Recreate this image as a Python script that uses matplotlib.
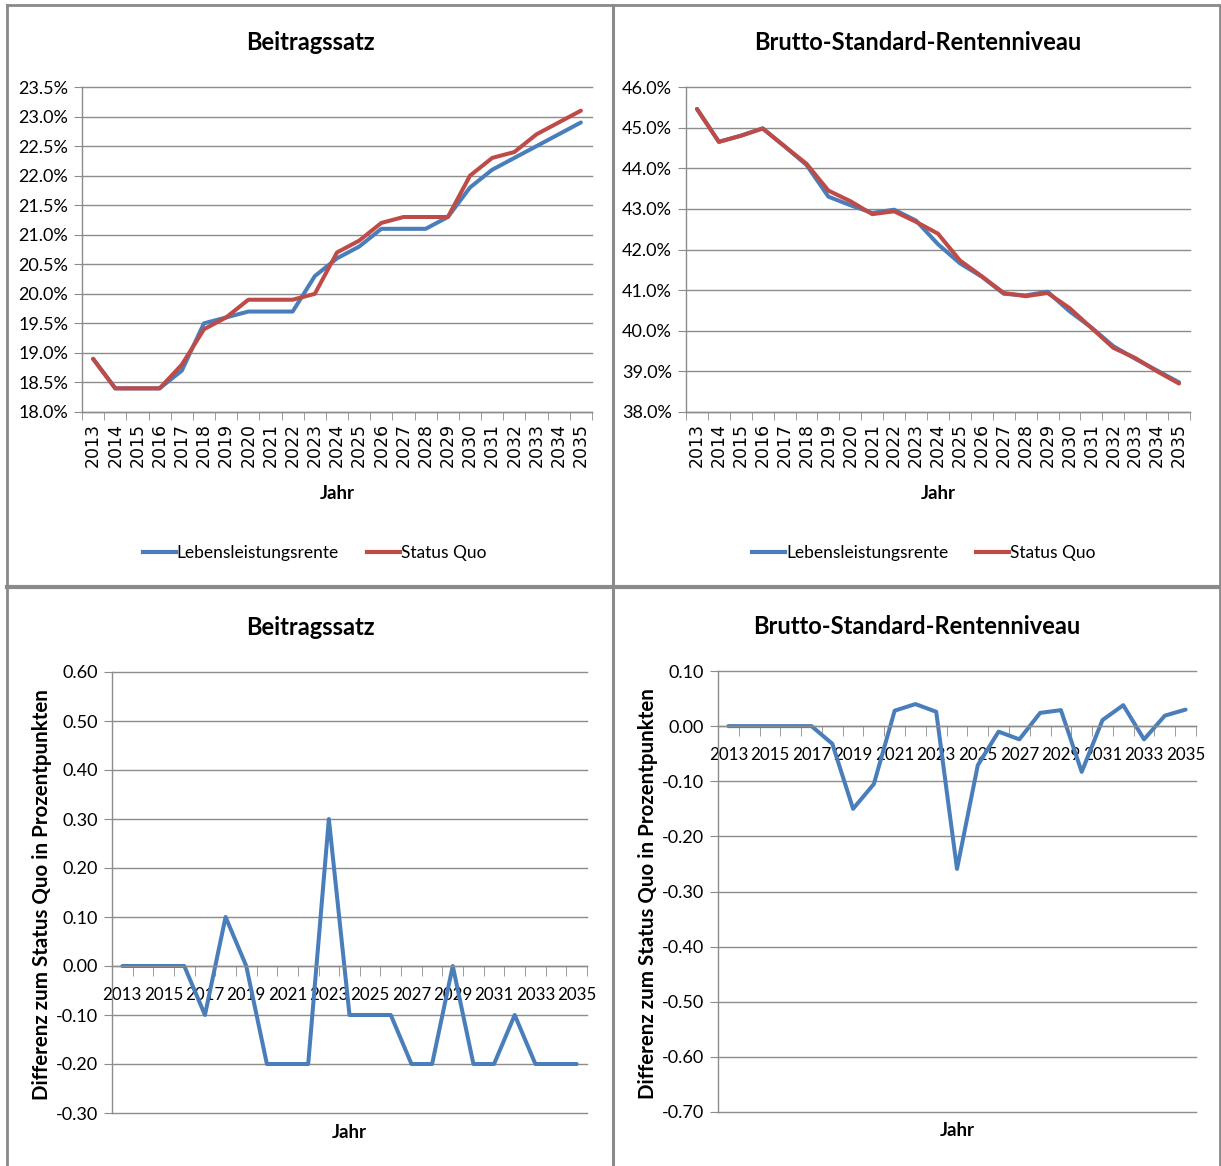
import matplotlib
matplotlib.use("Agg")
import matplotlib.pyplot as plt
from matplotlib.lines import Line2D
from matplotlib.ticker import FixedLocator, FuncFormatter

years = list(range(2013, 2036))

beitrag_lls = [18.9, 18.4, 18.4, 18.4, 18.7, 19.5, 19.6, 19.7, 19.7, 19.7, 20.3, 20.6,
               20.8, 21.1, 21.1, 21.1, 21.3, 21.8, 22.1, 22.3, 22.5, 22.7, 22.9]
beitrag_sq = [18.9, 18.4, 18.4, 18.4, 18.8, 19.4, 19.6, 19.9, 19.9, 19.9, 20.0, 20.7,
              20.9, 21.2, 21.3, 21.3, 21.3, 22.0, 22.3, 22.4, 22.7, 22.9, 23.1]

renten_lls = [45.46, 44.65, 44.80, 44.98, 44.54, 44.08, 43.30, 43.09, 42.90, 42.98, 42.71, 42.13,
              41.66, 41.33, 40.91, 40.87, 40.96, 40.48, 40.08, 39.62, 39.31, 39.02, 38.73]
renten_sq = [45.46, 44.65, 44.80, 44.98, 44.54, 44.11, 43.45, 43.19, 42.87, 42.94, 42.68, 42.39,
             41.73, 41.34, 40.93, 40.85, 40.93, 40.56, 40.07, 39.58, 39.33, 39.00, 38.70]

diff_beitrag = [0.0, 0.0, 0.0, 0.0, -0.1, 0.1, 0.0, -0.2, -0.2, -0.2, 0.3, -0.1,
                -0.1, -0.1, -0.2, -0.2, 0.0, -0.2, -0.2, -0.1, -0.2, -0.2, -0.2]
diff_renten = [0.0, 0.0, 0.0, 0.0, 0.0, -0.032, -0.15, -0.105, 0.028, 0.04, 0.026, -0.259,
               -0.071, -0.01, -0.024, 0.024, 0.029, -0.083, 0.011, 0.038, -0.024, 0.019, 0.03]

series_names = ["Lebensleistungsrente", "Status Quo"]
titles = ["Beitragssatz", "Brutto-Standard-Rentenniveau"]
xlabel = "Jahr"
ylabel_diff = "Differenz zum Status Quo in Prozentpunkten"

BLUE = "#4A7EBB"
RED = "#BE4B48"
GRID = "#8C8C8C"
FRAME = "#8A8A8A"
NARROW = ["Lato", "DejaVu Sans"]

W, H = 1221, 1166
fig = plt.figure(figsize=(W / 100, H / 100), dpi=100)
fig.patch.set_facecolor("white")


def rect(l, t, r, b):
    return [l / W, 1 - b / H, (r - l) / W, (b - t) / H]


def style_common(ax):
    for s in ["top", "right"]:
        ax.spines[s].set_visible(False)
    for s in ["left", "bottom"]:
        ax.spines[s].set_color(GRID)
        ax.spines[s].set_linewidth(1.0)
    ax.grid(axis="y", color=GRID, linewidth=1.0)
    for gl in ax.get_ygridlines():
        gl.set_clip_on(False)
    ax.set_axisbelow(True)
    ax.tick_params(axis="y", length=6, color=GRID, labelsize=13, pad=4)
    for lab in ax.get_yticklabels():
        lab.set_family(NARROW)
    ax.set_xlim(-0.5, len(years) - 0.5)
    ax.xaxis.set_minor_locator(FixedLocator([i + 0.5 for i in range(-1, len(years))]))


def top_chart(rect_px, lls, sq, yticks, title, title_xy, leg_x):
    ax = fig.add_axes(rect(*rect_px))
    x = list(range(len(years)))
    ax.plot(x, lls, color=BLUE, lw=2.9, solid_capstyle="round", solid_joinstyle="round")
    ax.plot(x, sq, color=RED, lw=2.9, solid_capstyle="round", solid_joinstyle="round")
    ax.set_ylim(yticks[0], yticks[-1])
    ax.set_yticks(yticks)
    ax.yaxis.set_major_formatter(FuncFormatter(lambda v, p: f"{v:.1f}%"))
    style_common(ax)
    ax.set_xticks(x)
    ax.set_xticklabels([str(y) for y in years], rotation=90, fontsize=12.5,
                       family="DejaVu Sans")
    ax.tick_params(axis="x", which="major", length=0, pad=8)
    ax.tick_params(axis="x", which="minor", length=6, color=GRID)
    ax.set_xlabel(xlabel, fontsize=13.5, fontweight="bold", family=NARROW, labelpad=13)
    fig.text(title_xy[0] / W, 1 - title_xy[1] / H, title, fontsize=17, fontweight="bold",
             family=NARROW, ha="center", va="center")
    handles = [Line2D([], [], color=BLUE, lw=3), Line2D([], [], color=RED, lw=3)]
    ax.legend(handles, series_names, loc="center", ncol=2, frameon=False,
              bbox_to_anchor=(leg_x, -0.435), prop={"family": NARROW, "size": 12.5},
              handlelength=1.9, handletextpad=0.05, columnspacing=1.6)
    return ax


def diff_chart(rect_px, vals, yticks, title, title_xy, ylab_x):
    ax = fig.add_axes(rect(*rect_px))
    x = list(range(len(years)))
    ax.plot(x, vals, color=BLUE, lw=2.9, solid_capstyle="round", solid_joinstyle="round")
    ax.set_ylim(yticks[0], yticks[-1])
    ax.set_yticks(yticks)
    ax.yaxis.set_major_formatter(FuncFormatter(lambda v, p: f"{v:.2f}"))
    style_common(ax)
    ax.spines["bottom"].set_position(("data", 0))
    ax.set_xticks(x[::2])
    ax.set_xticklabels([str(y) for y in years[::2]], fontsize=12.2, family=NARROW)
    ax.tick_params(axis="x", which="major", length=0, pad=15)
    ax.tick_params(axis="x", which="minor", length=7, color=GRID, direction="out")
    fig.text(title_xy[0] / W, 1 - title_xy[1] / H, title, fontsize=17, fontweight="bold",
             family=NARROW, ha="center", va="center")
    cx = (rect_px[0] + rect_px[2]) / 2
    fig.text((cx) / W, 1 - (rect_px[3] + 19) / H, xlabel, fontsize=13.5,
             fontweight="bold", family=NARROW, ha="center", va="center")
    fig.text(ylab_x / W, 1 - ((rect_px[1] + rect_px[3]) / 2 + 2) / H, ylabel_diff,
             fontsize=14.8, fontweight="bold", family=NARROW, rotation=90,
             ha="center", va="center")
    return ax


top_chart((82, 87, 592, 412), beitrag_lls, beitrag_sq,
          [18.0, 18.5, 19.0, 19.5, 20.0, 20.5, 21.0, 21.5, 22.0, 22.5, 23.0, 23.5],
          titles[0], (310, 43), 0.456)
top_chart((686, 87, 1190, 412), renten_lls, renten_sq,
          [38.0, 39.0, 40.0, 41.0, 42.0, 43.0, 44.0, 45.0, 46.0],
          titles[1], (918, 43), 0.472)
diff_chart((112, 672, 587, 1113), diff_beitrag,
           [-0.3, -0.2, -0.1, 0.0, 0.1, 0.2, 0.3, 0.4, 0.5, 0.6],
           titles[0], (310, 628), 42)
diff_chart((718, 671, 1196, 1112), diff_renten,
           [-0.7, -0.6, -0.5, -0.4, -0.3, -0.2, -0.1, 0.0, 0.1],
           titles[1], (917, 627), 648)


def hline(y, x0, x1, lw):
    fig.add_artist(Line2D([x0 / W, x1 / W], [1 - y / H, 1 - y / H], color=FRAME, lw=lw))


def vline(x, y0, y1, lw):
    fig.add_artist(Line2D([x / W, x / W], [1 - y0 / H, 1 - y1 / H], color=FRAME, lw=lw))


hline(5, 7, 1221, 2.0)
hline(587, 7, 1221, 3.0)
vline(7.5, 5, 1166, 2.0)
vline(612.5, 5, 1166, 2.2)
vline(1219.5, 5, 1166, 2.0)

fig.savefig("out.png", dpi=100, facecolor="white")
